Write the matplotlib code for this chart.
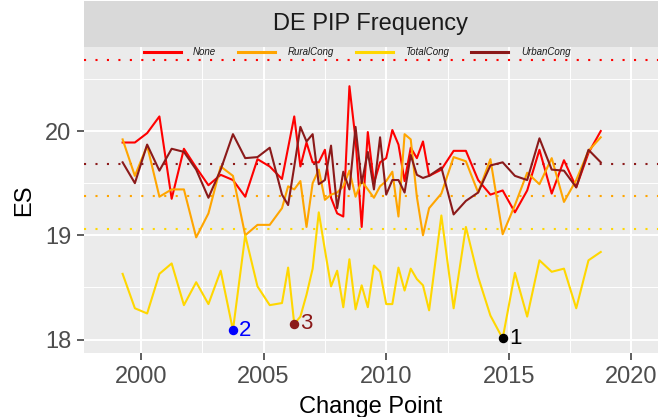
import matplotlib
matplotlib.use("Agg")
import matplotlib.pyplot as plt
from matplotlib.ticker import MultipleLocator

plt.rcParams['font.family'] = ['Liberation Sans', 'DejaVu Sans']

# change point dates (semi-annual, quarterly 2006-2011, semi-annual again)
years = [1999.25, 1999.75, 2000.25, 2000.75, 2001.25, 2001.75, 2002.25, 2002.75,
         2003.25, 2003.75, 2004.25, 2004.75, 2005.25, 2005.75,
         2006.0, 2006.25, 2006.5, 2006.75, 2007.0, 2007.25, 2007.5, 2007.75,
         2008.0, 2008.25, 2008.5, 2008.75, 2009.0, 2009.25, 2009.5, 2009.75,
         2010.0, 2010.25, 2010.5, 2010.75, 2011.0, 2011.25, 2011.5, 2011.75,
         2012.25, 2012.75, 2013.25, 2013.75, 2014.25, 2014.75, 2015.25, 2015.75,
         2016.25, 2016.75, 2017.25, 2017.75, 2018.25, 2018.75]

es_none = [19.89, 19.89, 19.98, 20.14, 19.35, 19.83, 19.65, 19.48, 19.58, 19.53,
           19.37, 19.73, 19.66, 19.54,
           19.84, 20.14, 19.66, 19.89, 19.70, 19.70, 19.82, 19.36, 19.21, 19.18,
           20.43, 19.92, 19.08, 19.99, 19.50, 19.70, 19.74, 20.01, 19.87, 19.52,
           19.84, 19.74, 19.90, 19.57,
           19.63, 19.81, 19.81, 19.53, 19.39, 19.43, 19.22, 19.43, 19.82, 19.40,
           19.72, 19.46, 19.79, 20.00]

es_rural = [19.92, 19.57, 19.86, 19.37, 19.44, 19.44, 18.98, 19.21, 19.66, 19.57,
            19.00, 19.10, 19.10, 19.26,
            19.47, 19.44, 19.52, 19.08, 19.50, 19.63, 19.34, 19.39, 19.41, 19.47,
            19.62, 19.37, 19.52, 19.44, 19.36, 19.47, 19.52, 19.61, 19.18, 19.97,
            19.92, 19.37, 19.00, 19.26,
            19.40, 19.75, 19.71, 19.41, 19.73, 19.01, 19.29, 19.60, 19.49, 19.74,
            19.32, 19.53, 19.81, 19.94]

es_total = [18.63, 18.30, 18.25, 18.63, 18.73, 18.33, 18.55, 18.34, 18.66, 18.09,
            19.00, 18.51, 18.33, 18.35,
            18.69, 18.15, 18.22, 18.43, 18.68, 19.22, 18.86, 18.51, 18.66, 18.31,
            18.77, 18.29, 18.52, 18.31, 18.71, 18.65, 18.34, 18.34, 18.69, 18.47,
            18.68, 18.58, 18.52, 18.28,
            19.19, 18.30, 19.08, 18.60, 18.23, 18.01, 18.64, 18.22, 18.76, 18.65,
            18.68, 18.30, 18.76, 18.84]

es_urban = [19.70, 19.50, 19.87, 19.62, 19.83, 19.80, 19.63, 19.36, 19.63, 19.97,
            19.74, 19.75, 19.84, 19.39,
            19.29, 19.66, 20.04, 19.90, 19.97, 19.49, 19.53, 19.86, 19.26, 19.61,
            19.44, 20.04, 19.50, 19.80, 19.44, 19.94, 19.39, 19.53, 19.53, 19.41,
            19.77, 19.58, 19.55, 19.57,
            19.65, 19.20, 19.33, 19.41, 19.67, 19.70, 19.57, 19.53, 19.93, 19.63,
            19.62, 19.46, 19.82, 19.70]

series_names = ["None", "RuralCong", "TotalCong", "UrbanCong"]
series_colors = ["#FF0000", "#FFA500", "#FFD700", "#8B1A1A"]
ref_levels = [20.68, 19.38, 19.06, 19.68]   # dotted reference line per series

# labelled change points (on the TotalCong line)
cp_years = [2014.75, 2003.75, 2006.25]
cp_labels = ["1", "2", "3"]
cp_colors = ["#000000", "#0000FF", "#8B1A1A"]

fig = plt.figure(figsize=(6.61, 4.17), dpi=100)
ax = fig.add_axes([0.12708, 0.15276, 0.86838, 0.73525])
ax.set_facecolor("#EBEBEB")

for lvl, col in zip(ref_levels, series_colors):
    ax.axhline(lvl, color=col, lw=1.5, ls=(0, (1, 4.5)), zorder=2)

all_series = [es_none, es_rural, es_total, es_urban]
for vals, name, col in zip(all_series, series_names, series_colors):
    ax.plot(years, vals, color=col, lw=1.5, label=name, zorder=3)

for yr, lab, col in zip(cp_years, cp_labels, cp_colors):
    yv = es_total[years.index(yr)]
    ax.plot(yr, yv, 'o', color=col, ms=5.8, zorder=4)
    ax.annotate(lab, (yr, yv), xytext=(4.5, 0), textcoords='offset points',
                color=col, fontsize=16, ha='left', va='center', zorder=5)

ax.set_xlim(1997.675, 2021.085)
ax.set_ylim(17.868, 20.809)
ax.xaxis.set_major_locator(MultipleLocator(5))
ax.xaxis.set_minor_locator(MultipleLocator(2.5))
ax.yaxis.set_major_locator(MultipleLocator(1))
ax.yaxis.set_minor_locator(MultipleLocator(0.5))
ax.grid(which='major', color='white', lw=1.4, zorder=0)
ax.grid(which='minor', color='white', lw=0.7, zorder=0)
ax.set_axisbelow(True)
for s in ax.spines.values():
    s.set_visible(False)
ax.tick_params(which='major', length=5, width=1.1, color='#333333',
               labelsize=17, labelcolor='#4D4D4D', pad=4)
ax.tick_params(which='minor', length=0)

ax.set_xlabel("Change Point", fontsize=17, color='black')
ax.set_ylabel("ES", fontsize=17, color='black')
ax.xaxis.set_label_coords(0.5, -0.174)
ax.xaxis.label.set_va('center')
ax.yaxis.set_label_coords(-0.1045, 0.5)
ax.yaxis.label.set_va('center')

leg = ax.legend(ncol=4, loc='center', bbox_to_anchor=(0.4755, 0.982),
                frameon=False, prop={'style': 'italic', 'size': 7},
                handlelength=3.8, handletextpad=1.3, columnspacing=2.25,
                borderpad=0, borderaxespad=0)
for t in leg.get_texts():
    t.set_color('#1A1A1A')
for h in leg.get_lines():
    h.set_linewidth(2.2)

# facet strip
sax = fig.add_axes([0.12708, 0.888, 0.86838, 0.1096])
sax.set_facecolor("#D9D9D9")
sax.set_xticks([])
sax.set_yticks([])
for s in sax.spines.values():
    s.set_visible(False)
sax.text(0.5, 0.5, "DE PIP Frequency", ha='center', va='center',
         fontsize=17, color='#1A1A1A', transform=sax.transAxes)

fig.savefig("out.png", dpi=100)
